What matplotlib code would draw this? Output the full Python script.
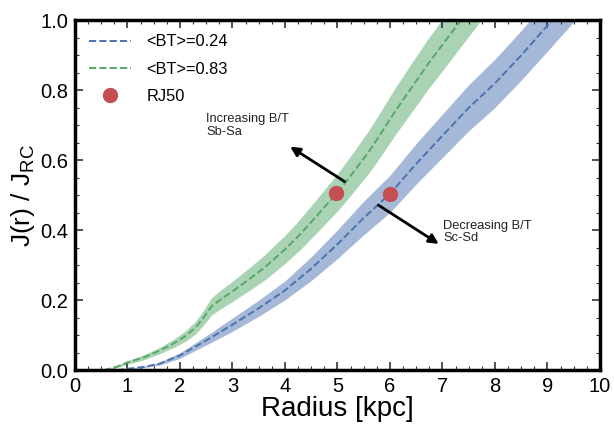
import matplotlib
matplotlib.use("Agg")
import matplotlib.pyplot as plt
import numpy as np

plt.rcParams['font.family'] = ['Liberation Sans', 'DejaVu Sans']
plt.rcParams['mathtext.fontset'] = 'custom'
plt.rcParams['mathtext.rm'] = 'Liberation Sans'
plt.rcParams['mathtext.it'] = 'Liberation Sans:italic'

# Data
radius_hi = [0.55, 0.8, 1.0, 1.3, 1.6, 1.9, 2.1, 2.3, 2.45, 2.6, 2.8, 3.0, 3.3, 3.6,
             4.0, 4.3, 4.6, 5.0, 5.3, 5.6, 5.8, 6.1, 6.4, 6.7, 7.0, 7.3, 7.6, 7.9]
j_hi = [0.0, 0.010, 0.022, 0.036, 0.055, 0.078, 0.097, 0.122, 0.150, 0.182, 0.205,
        0.225, 0.258, 0.292, 0.345, 0.39, 0.44, 0.508, 0.565, 0.625, 0.67, 0.74,
        0.805, 0.87, 0.93, 0.99, 1.05, 1.11]
spread_hi = [0.0, 0.003, 0.005, 0.007, 0.009, 0.012, 0.015, 0.018, 0.021, 0.025, 0.027,
             0.029, 0.032, 0.036, 0.04, 0.044, 0.048, 0.053, 0.057, 0.061, 0.064, 0.067,
             0.07, 0.072, 0.074, 0.075, 0.076, 0.077]

radius_lo = [0.8, 1.0, 1.3, 1.6, 2.0, 2.5, 3.0, 3.5, 4.0, 4.5, 5.0, 5.5, 6.0, 6.5,
             7.0, 7.5, 8.0, 8.5, 9.0, 9.5]
j_lo = [0.0, 0.004, 0.009, 0.018, 0.042, 0.085, 0.13, 0.177, 0.228, 0.29, 0.36, 0.435,
        0.504, 0.59, 0.67, 0.75, 0.82, 0.90, 0.985, 1.07]
spread_lo = [0.0, 0.001, 0.002, 0.004, 0.008, 0.013, 0.019, 0.023, 0.027, 0.034, 0.041,
             0.048, 0.053, 0.058, 0.062, 0.066, 0.069, 0.071, 0.073, 0.074]

rj50_r = [4.97, 6.01]
rj50_j = [0.507, 0.504]

labels = ['<BT>=0.24', '<BT>=0.83', 'RJ50']

blue = '#4C72B0'
green = '#55A868'
red = '#C44E52'

fig = plt.figure(figsize=(6.14, 4.25), dpi=100)
ax = fig.add_axes([0.122, 0.129, 0.855, 0.823])

xb = np.array(radius_lo); yb = np.array(j_lo); sb = np.array(spread_lo)
xg = np.array(radius_hi); yg = np.array(j_hi); sg = np.array(spread_hi)

ax.fill_between(xb, yb - sb, yb + sb, color=blue, alpha=0.5, lw=0)
ax.fill_between(xg, yg - sg, yg + sg, color=green, alpha=0.5, lw=0)
ax.plot(xb, yb, '--', color=blue, lw=1.4, label=labels[0])
ax.plot(xg, yg, '--', color=green, lw=1.4, label=labels[1])
ax.plot(rj50_r, rj50_j, 'o', color=red, ms=10, ls='none', label=labels[2], zorder=5)

ax.annotate('', xy=(4.1, 0.639), xytext=(5.14, 0.539),
            arrowprops=dict(arrowstyle='-|>', color='black', lw=2, mutation_scale=14,
                            shrinkA=0, shrinkB=0))
ax.annotate('', xy=(6.93, 0.361), xytext=(5.78, 0.472),
            arrowprops=dict(arrowstyle='-|>', color='black', lw=2, mutation_scale=14,
                            shrinkA=0, shrinkB=0))
ax.text(2.5, 0.735, 'Increasing B/T\nSb-Sa', fontsize=9.3, color='#222222',
        va='top', ha='left', linespacing=1.05)
ax.text(7.02, 0.43, 'Decreasing B/T\nSc-Sd', fontsize=9.3, color='#222222',
        va='top', ha='left', linespacing=1.05)

ax.set_xlim(0, 10)
ax.set_ylim(0, 1.0)
ax.set_xticks(np.arange(0, 11, 1))
ax.set_yticks(np.arange(0, 1.01, 0.2))
ax.set_xticks(np.arange(0, 10.01, 0.25), minor=True)
ax.set_yticks(np.arange(0, 1.001, 0.05), minor=True)
ax.yaxis.set_major_formatter(matplotlib.ticker.FormatStrFormatter('%.1f'))
ax.tick_params(which='both', direction='in', top=True, right=True, labelsize=14.5,
               color='#333333')
ax.tick_params(which='major', length=6, width=1.2, pad=5)
ax.tick_params(which='minor', length=3, width=0.8)
for s in ax.spines.values():
    s.set_linewidth(2.5)
    s.set_color('black')

ax.set_xlabel('Radius [kpc]', fontsize=20, labelpad=0)
ax.set_ylabel(r'J(r) / J$_{\rm RC}$', fontsize=19, labelpad=2)

leg = ax.legend(loc='upper left', frameon=False, fontsize=11.8, handlelength=2.6,
                handletextpad=0.9, borderaxespad=0.45, labelspacing=0.75)

fig.savefig('out.png', dpi=100)
